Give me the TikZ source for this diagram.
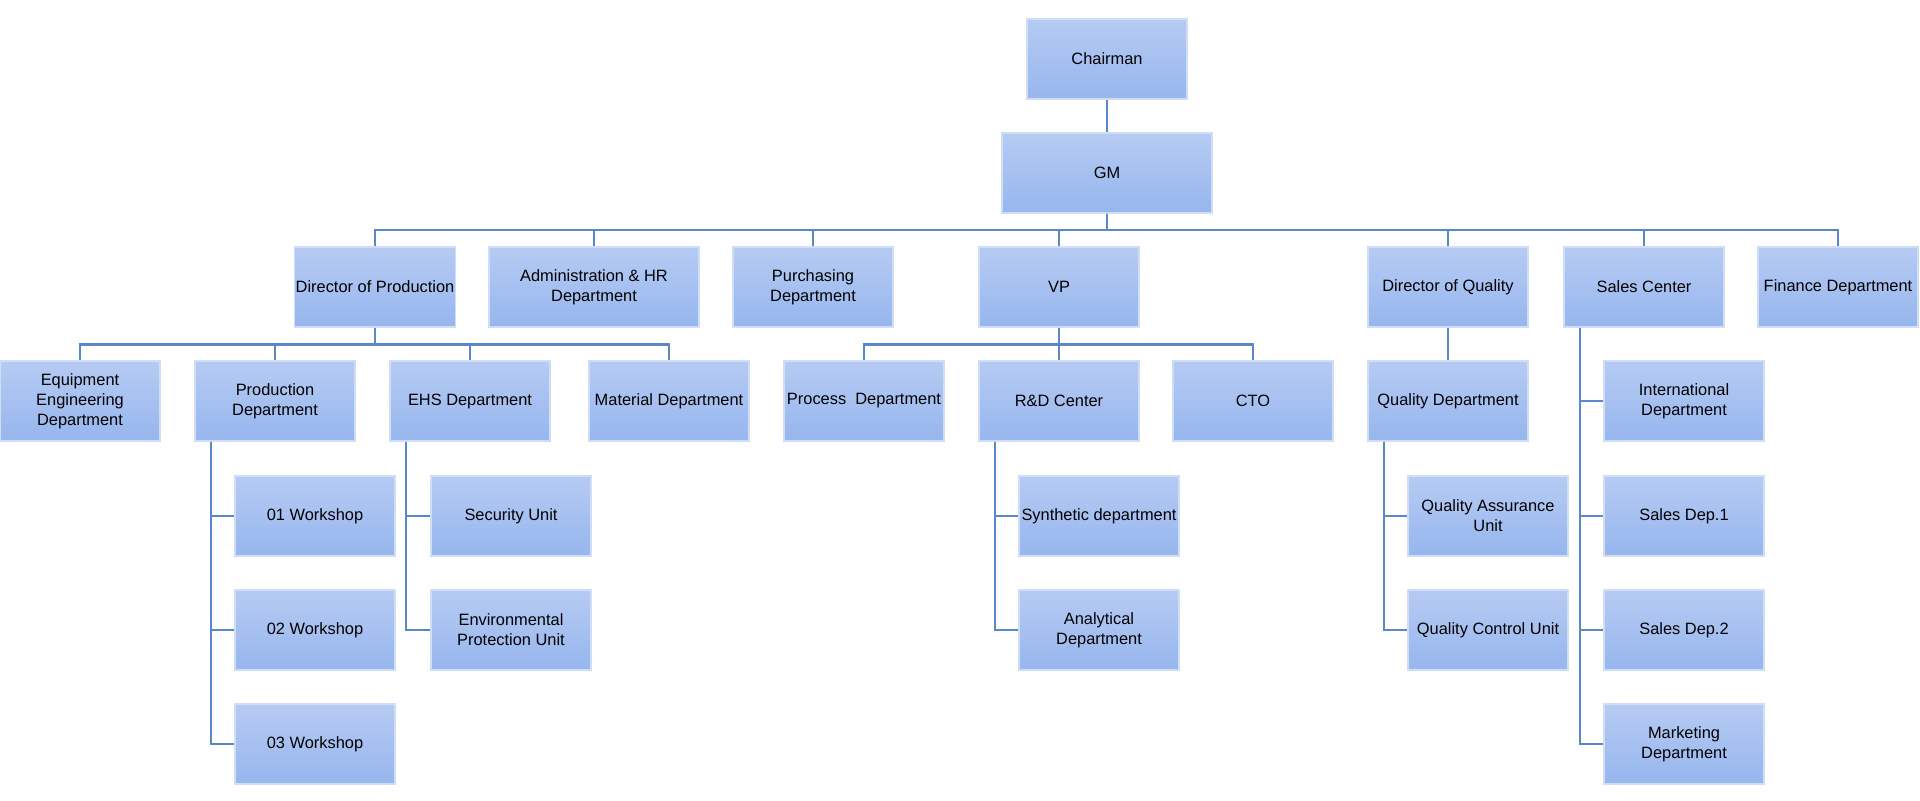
\documentclass[tikz,border=0pt]{standalone}
\usepackage{fontspec}
\setmainfont{Liberation Sans}
\usepackage{xcolor}
\usepackage{tikz}
\usetikzlibrary{calc}

\definecolor{boxtop}{RGB}{182,203,243}
\definecolor{boxbot}{RGB}{150,182,238}
\definecolor{boxrim}{RGB}{208,221,247}
\definecolor{linkblue}{RGB}{91,134,206}

\tikzset{
  unit/.style={draw=boxrim, line width=0.6pt, top color=boxtop, bottom color=boxbot,
    minimum width=80pt, minimum height=40pt, inner sep=0.5pt, align=center,
    font=\fontsize{8.2}{10}\selectfont, text=black},
  wideunit/.style={unit, minimum width=105pt},
  link/.style={draw=linkblue, line width=1.1pt},
}

\begin{document}
\begin{tikzpicture}[x=0.5pt,y=-0.5pt]
    \useasboundingbox (0,0) rectangle (1920,801);
    % row heights (pixel grid, y downwards)
    \def\rowA{59}   % chairman
    \def\rowB{173}  % GM
    \def\rowC{287}  % directors
    \def\rowD{401}  % departments
    \def\rowE{516}  % first unit row
    \def\rowF{630}  % second unit row
    \def\rowG{744}  % third unit row
    % top of the chart
    \node[unit] (chair) at (1107,\rowA) {Chairman};
    \node[wideunit] (gm) at (1107,\rowB) {GM};
    % directors and central departments
    \node[unit] (dop) at (375,\rowC) {Director of Production};
    \node[wideunit] (admin) at (594,\rowC) {Administration \& HR\\Department};
    \node[unit] (purch) at (813,\rowC) {Purchasing\\Department};
    \node[unit] (vp) at (1059,\rowC) {VP};
    \node[unit] (doq) at (1448,\rowC) {Director of Quality};
    \node[unit] (sales) at (1644,\rowC) {Sales Center};
    \node[unit] (fin) at (1838,\rowC) {Finance Department};
    % departments
    \node[unit] (equip) at (80,\rowD) {Equipment\\Engineering\\Department};
    \node[unit] (prod) at (275,\rowD) {Production\\Department};
    \node[unit] (ehs) at (470,\rowD) {EHS Department};
    \node[unit] (mat) at (669,\rowD) {Material Department};
    \node[unit] (proc) at (864,\rowD) {Process\ \ Department};
    \node[unit] (rnd) at (1059,\rowD) {R\&D Center};
    \node[unit] (cto) at (1253,\rowD) {CTO};
    \node[unit] (qd) at (1448,\rowD) {Quality Department};
    \node[unit] (intl) at (1684,\rowD) {International\\Department};
    % units below the departments
    \node[unit] (ws1) at (315,\rowE) {01 Workshop};
    \node[unit] (ws2) at (315,\rowF) {02 Workshop};
    \node[unit] (ws3) at (315,\rowG) {03 Workshop};
    \node[unit] (sec) at (511,\rowE) {Security Unit};
    \node[unit] (env) at (511,\rowF) {Environmental\\Protection Unit};
    \node[unit] (syn) at (1099,\rowE) {Synthetic department};
    \node[unit] (ana) at (1099,\rowF) {Analytical\\Department};
    \node[unit] (qa) at (1488,\rowE) {Quality Assurance\\Unit};
    \node[unit] (qc) at (1488,\rowF) {Quality Control Unit};
    \node[unit] (sd1) at (1684,\rowE) {Sales Dep.1};
    \node[unit] (sd2) at (1684,\rowF) {Sales Dep.2};
    \node[unit] (mkt) at (1684,\rowG) {Marketing\\Department};
    % connectors
    \draw[link] (chair) -- (gm);
    \foreach \n in {dop,admin,purch,vp,doq,sales,fin}
      \draw[link] (gm.south) -- ++(0,-8.2pt) -| (\n.north);
    \foreach \n in {equip,prod,ehs,mat}
      \draw[link] (dop.south) -- ++(0,-8.5pt) -| (\n.north);
    \foreach \n in {proc,rnd,cto}
      \draw[link] (vp.south) -- ++(0,-8.5pt) -| (\n.north);
    \draw[link] (doq) -- (qd);
    % side branches
    \foreach \p/\c in {prod/ws1,prod/ws2,prod/ws3,ehs/sec,ehs/env,rnd/syn,rnd/ana,
                       qd/qa,qd/qc,sales/intl,sales/sd1,sales/sd2,sales/mkt}
      \draw[link] ([xshift=8.3pt]\p.south west) |- (\c.west);
  \end{tikzpicture}
\end{document}
